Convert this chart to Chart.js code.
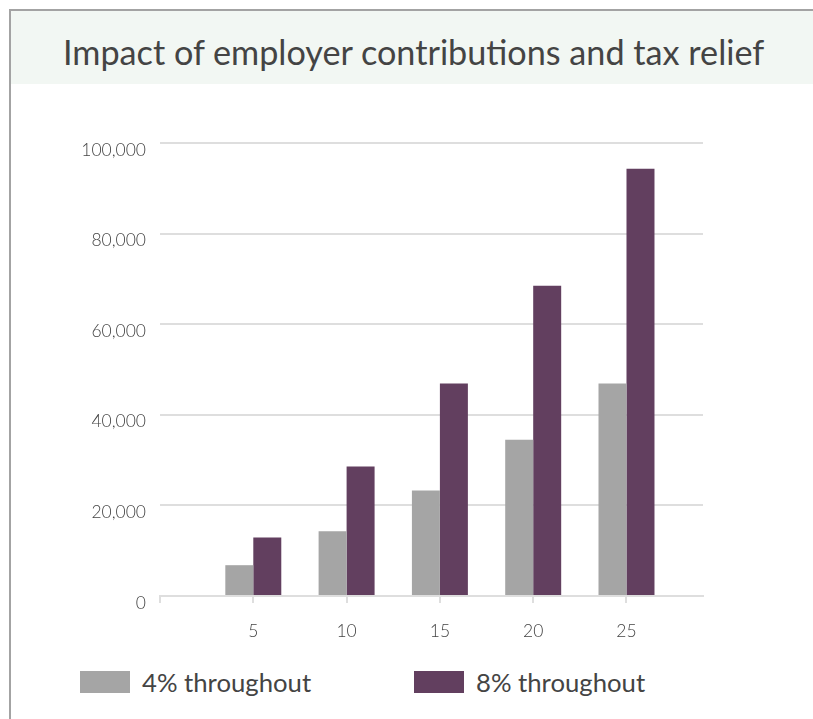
<!DOCTYPE html>
<html>
<head>
<meta charset="utf-8">
<script src="https://cdn.jsdelivr.net/npm/chart.js@4.4.1/dist/chart.umd.min.js"></script>
<style>
  html, body { margin: 0; padding: 0; background: #ffffff; overflow: hidden; }
  body { width: 813px; height: 719px; position: relative; }
  .frame { position: absolute; left: 9px; top: 9px; width: 900px; height: 800px; border: 2px solid #a3a3a3; box-sizing: border-box; }
  .band { position: absolute; left: 11px; top: 11px; width: 900px; height: 73px; background: #f2f7f3; }
  .title { position: absolute; left: 63px; top: 35px; font-family: Lato, "Open Sans", sans-serif; font-size: 34.2px; font-weight: 400; color: #444444; white-space: nowrap; line-height: 1; }
  .chartbox { position: absolute; left: 11px; top: 86px; width: 720px; height: 574px; }
  .legend { position: absolute; top: 668px; left: 0; width: 813px; height: 30px; font-family: Lato, "Open Sans", sans-serif; font-size: 25.7px; font-weight: 400; color: #444444; }
  .item { position: absolute; top: 0; display: flex; align-items: center; height: 28px; }
  .swatch { width: 50px; height: 22px; margin-right: 12px; }
</style>
</head>
<body>
<div class="frame"></div>
<div class="band"></div>
<div class="title" id="title"></div>
<div class="chartbox"><canvas id="chart"></canvas></div>
<div class="legend" id="legend"></div>
<script>
const titleText = "Impact of employer contributions and tax relief";
const years = [5, 10, 15, 20, 25];
const seriesNames = ["4% throughout", "8% throughout"];
const series4 = [6800, 14300, 23300, 34500, 46900];
const series8 = [12900, 28600, 46900, 68500, 94300];
const yTicks = [0, 20000, 40000, 60000, 80000, 100000];
const colors = ["#a5a5a5", "#623f5f"];
const legendLefts = [80, 414];

document.getElementById('title').textContent = titleText;

const toPoints = vals => years.map((x, i) => ({ x: x, y: vals[i] }));
const tickFont = { family: "Lato, 'Open Sans', sans-serif", size: 17.5, weight: 300 };
const gridColor = '#dedede';

const chart = new Chart(document.getElementById('chart'), {
  type: 'bar',
  data: {
    datasets: [
      { label: seriesNames[0], data: toPoints(series4), backgroundColor: colors[0], categoryPercentage: 0.6, barPercentage: 1.0 },
      { label: seriesNames[1], data: toPoints(series8), backgroundColor: colors[1], categoryPercentage: 0.6, barPercentage: 1.0 }
    ]
  },
  options: {
    responsive: true,
    maintainAspectRatio: false,
    animation: false,
    layout: { padding: { top: 57, right: 28, left: 0, bottom: 0 } },
    plugins: { legend: { display: false }, tooltip: { enabled: false } },
    scales: {
      x: {
        type: 'linear',
        offset: false,
        min: 0,
        max: 29.1,
        afterBuildTicks: s => { s.ticks = s.ticks.filter(t => t.value % 5 === 0); },
        ticks: { stepSize: 5, autoSkip: false, maxRotation: 0, color: '#444444', font: tickFont, padding: 18,
          callback: v => (years.includes(v) ? String(v) : '') },
        grid: { offset: false, drawOnChartArea: false, drawTicks: true, tickLength: 7, color: gridColor, lineWidth: 2 },
        border: { display: true, color: gridColor, width: 2 }
      },
      y: {
        min: yTicks[0],
        max: yTicks[yTicks.length - 1],
        afterBuildTicks: s => { s.ticks = yTicks.map(v => ({ value: v })); },
        afterFit: s => { s.width = 149; },
        ticks: { color: '#444444', font: tickFont, padding: 14, labelOffset: 7,
          callback: v => Number(v).toLocaleString('en-US') },
        grid: { drawTicks: false, color: gridColor, lineWidth: 2 },
        border: { display: false }
      }
    }
  }
});

const legendEl = document.getElementById('legend');
chart.data.datasets.forEach((ds, i) => {
  const item = document.createElement('div');
  item.className = 'item';
  item.style.left = legendLefts[i] + 'px';
  const sw = document.createElement('div');
  sw.className = 'swatch';
  sw.style.background = ds.backgroundColor;
  const tx = document.createElement('span');
  tx.textContent = ds.label;
  item.appendChild(sw);
  item.appendChild(tx);
  legendEl.appendChild(item);
});
</script>
</body>
</html>
